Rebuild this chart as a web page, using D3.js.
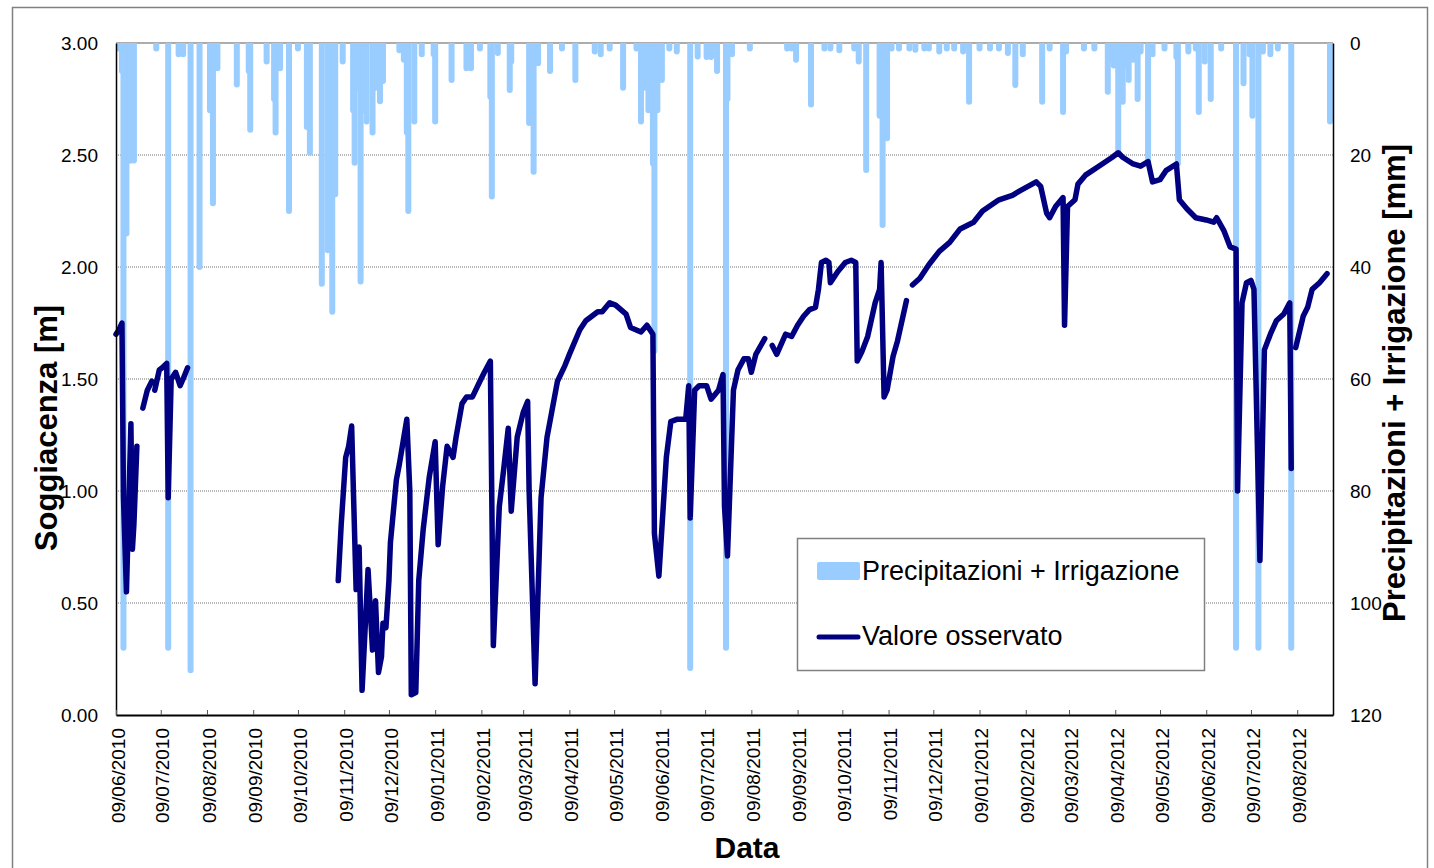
<!DOCTYPE html>
<html>
<head>
<meta charset="utf-8">
<script src="https://cdn.jsdelivr.net/npm/d3@7"></script>
<style>
  body { margin: 0; background: #fff; }
  text { font-family: Arial, "Liberation Sans", sans-serif; }
</style>
</head>
<body>
<svg id="canvas" width="1434" height="868"></svg>
<script>
// groundwater depth (Soggiacenza, m) - null marks a gap in the record
var levelDates = [
  "2010-06-09","2010-06-11","2010-06-13","2010-06-14","2010-06-16","2010-06-19","2010-06-20","2010-06-21","2010-06-23","2010-06-25",
  "2010-06-27","2010-06-30","2010-07-03","2010-07-04","2010-07-05","2010-07-08","2010-07-10","2010-07-13","2010-07-14","2010-07-16",
  "2010-07-19","2010-07-22","2010-07-24","2010-07-27","2010-07-28",
  "2010-11-05","2010-11-07","2010-11-10","2010-11-12","2010-11-14","2010-11-17","2010-11-19","2010-11-21","2010-11-25","2010-11-28",
  "2010-11-30","2010-12-02","2010-12-04","2010-12-05","2010-12-07","2010-12-09","2010-12-10","2010-12-14","2010-12-16","2010-12-18",
  "2010-12-21","2010-12-23","2010-12-24","2010-12-27","2010-12-29","2011-01-01","2011-01-05","2011-01-09","2011-01-11","2011-01-14",
  "2011-01-17","2011-01-21","2011-01-23","2011-01-27","2011-01-30","2011-02-03","2011-02-08","2011-02-11","2011-02-15","2011-02-17",
  "2011-02-21","2011-02-24","2011-02-27","2011-03-01","2011-03-05","2011-03-09","2011-03-12","2011-03-13","2011-03-17","2011-03-21",
  "2011-03-25","2011-04-01","2011-04-06","2011-04-09","2011-04-16","2011-04-20","2011-04-28","2011-05-01","2011-05-06","2011-05-10",
  "2011-05-17","2011-05-20","2011-05-27","2011-05-31","2011-06-04","2011-06-05","2011-06-08","2011-06-13","2011-06-16","2011-06-20",
  "2011-06-26","2011-06-28","2011-06-29","2011-07-02","2011-07-05","2011-07-10","2011-07-13","2011-07-18","2011-07-21","2011-07-22",
  "2011-07-24","2011-07-28","2011-07-31","2011-08-04","2011-08-07","2011-08-09","2011-08-12","2011-08-18","2011-08-20","2011-08-23",
  "2011-08-26","2011-09-01","2011-09-05","2011-09-09","2011-09-13","2011-09-17","2011-09-21","2011-09-23","2011-09-25","2011-09-28",
  "2011-09-30","2011-10-01","2011-10-06","2011-10-11","2011-10-15","2011-10-18","2011-10-19","2011-10-22","2011-10-26","2011-10-31",
  "2011-11-03","2011-11-04","2011-11-06","2011-11-08","2011-11-12","2011-11-15","2011-11-21","2011-11-23","2011-11-25","2011-11-30",
  "2011-12-06","2011-12-13","2011-12-20","2011-12-27","2012-01-05","2012-01-11","2012-01-22","2012-01-31","2012-02-05","2012-02-16",
  "2012-02-19","2012-02-23","2012-02-25","2012-02-29","2012-03-05","2012-03-06","2012-03-08","2012-03-13","2012-03-15","2012-03-20",
  "2012-03-29","2012-04-07","2012-04-11","2012-04-14","2012-04-21","2012-04-26","2012-05-01","2012-05-04","2012-05-09","2012-05-13",
  "2012-05-20","2012-05-22","2012-05-27","2012-06-02","2012-06-09","2012-06-14","2012-06-16","2012-06-21","2012-06-25","2012-06-29",
  "2012-06-30","2012-07-03","2012-07-06","2012-07-09","2012-07-11","2012-07-15","2012-07-18","2012-07-22","2012-07-26","2012-07-31",
  "2012-08-04","2012-08-05","2012-08-06","2012-08-08","2012-08-13","2012-08-16","2012-08-19","2012-08-24","2012-08-29"
];
var levelValues = [
  1.70,1.72,1.75,0.97,0.55,1.30,0.74,0.85,1.20,null,
  1.37,1.45,1.49,null,1.45,1.54,1.55,1.57,0.97,1.50,
  1.53,1.47,1.50,1.55,null,
  0.60,0.85,1.15,1.20,1.29,0.56,0.75,0.11,0.65,0.29,
  0.51,0.19,0.26,0.41,0.39,0.60,0.77,1.05,1.12,1.20,
  1.32,1.00,0.09,0.10,0.60,0.83,1.06,1.22,0.76,1.02,
  1.20,1.15,1.24,1.39,1.42,1.42,1.49,1.53,1.58,0.31,
  0.93,1.10,1.28,0.91,1.24,1.35,1.40,1.00,0.14,0.97,
  1.24,1.49,1.56,1.61,1.72,1.76,1.80,1.80,1.84,1.83,
  1.79,1.73,1.71,1.74,1.70,0.81,0.62,1.15,1.31,1.32,
  1.32,1.47,0.88,1.45,1.47,1.47,1.41,1.45,1.52,0.93,
  0.71,1.45,1.54,1.59,1.59,1.53,1.61,1.68,null,1.65,
  1.61,1.70,1.69,1.74,1.78,1.81,1.82,1.90,2.02,2.03,
  2.02,1.93,1.98,2.02,2.03,2.02,1.58,1.62,1.69,1.84,
  1.90,2.02,1.42,1.45,1.60,1.67,1.85,null,1.92,1.95,
  2.01,2.07,2.11,2.17,2.20,2.25,2.30,2.32,2.34,2.38,
  2.36,2.24,2.22,2.27,2.31,1.74,2.27,2.30,2.37,2.41,
  2.45,2.49,2.51,2.49,2.46,2.45,2.47,2.38,2.39,2.43,
  2.46,2.30,2.26,2.22,2.21,2.20,2.22,2.16,2.09,2.08,
  1.00,1.84,1.93,1.94,1.90,0.69,1.63,1.70,1.76,1.79,
  1.84,1.10,null,1.64,1.78,1.82,1.90,1.93,1.97
];

// daily precipitation + irrigation (mm)
var rainDates = [
  "2010-06-10","2010-06-13","2010-06-14","2010-06-16","2010-06-18","2010-06-19","2010-06-21",
  "2010-07-06","2010-07-14","2010-07-21","2010-07-24","2010-07-29",
  "2010-08-04","2010-08-11","2010-08-13","2010-08-16","2010-08-29",
  "2010-09-06","2010-09-07","2010-09-18","2010-09-23","2010-09-24","2010-09-27",
  "2010-10-03","2010-10-09","2010-10-15","2010-10-17","2010-10-25","2010-10-29",
  "2010-11-01","2010-11-03","2010-11-08","2010-11-15","2010-11-16","2010-11-18","2010-11-20","2010-11-22","2010-11-24","2010-11-28","2010-11-30",
  "2010-12-03","2010-12-05","2010-12-16","2010-12-19","2010-12-21","2010-12-22","2010-12-26","2010-12-31",
  "2011-01-08","2011-01-09","2011-01-20","2011-01-30",
  "2011-02-02","2011-02-08","2011-02-15","2011-02-16","2011-02-20","2011-02-28",
  "2011-03-01","2011-03-13","2011-03-16","2011-03-19","2011-03-27",
  "2011-04-04","2011-04-13","2011-04-26","2011-04-30",
  "2011-05-06","2011-05-15","2011-05-24","2011-05-27","2011-05-30",
  "2011-06-01","2011-06-04","2011-06-05","2011-06-07","2011-06-10","2011-06-15","2011-06-20","2011-06-29",
  "2011-07-04","2011-07-10","2011-07-13","2011-07-17","2011-07-23","2011-07-24","2011-07-27",
  "2011-08-08",
  "2011-09-02","2011-09-05","2011-09-08","2011-09-18","2011-09-27",
  "2011-10-01","2011-10-07","2011-10-17","2011-10-20","2011-10-25",
  "2011-11-03","2011-11-05","2011-11-08","2011-11-11","2011-11-16","2011-11-23","2011-11-27",
  "2011-12-03","2011-12-06","2011-12-13","2011-12-18","2011-12-23","2011-12-29",
  "2012-01-02","2012-01-09","2012-01-16","2012-01-22","2012-01-28",
  "2012-02-02","2012-02-07","2012-02-20","2012-02-25",
  "2012-03-05","2012-03-07","2012-03-19","2012-03-26",
  "2012-04-04","2012-04-06","2012-04-08","2012-04-11","2012-04-14","2012-04-16","2012-04-18","2012-04-21","2012-04-24","2012-04-26",
  "2012-05-01","2012-05-04","2012-05-12","2012-05-20","2012-05-21","2012-05-28",
  "2012-06-02","2012-06-04","2012-06-08","2012-06-12","2012-06-19","2012-06-29",
  "2012-07-04","2012-07-08","2012-07-10","2012-07-14","2012-07-17","2012-07-22","2012-07-27",
  "2012-08-05","2012-08-31"
];
var rainValues = [
  1,5,108,34,21,21,21,
  1,108,2,2,112,
  40,12,28.6,4.5,7.4,
  5,15.5,3.3,10,16,4.5,
  30,1,15,19.6,43,37,
  48,27,3.3,12,21.4,8,42.6,12,14,16,8,
  10.4,6.8,1.3,3,16,30,14,2,
  2,14,6.6,4.5,
  4.5,1,9.6,27.4,1.8,8.4,
  3.3,14.3,23,3.6,5,
  1,6.6,1.5,2,
  1,8,1,14,8,
  12,21.5,55,12,6.6,1,1.5,111.6,
  2.4,2.5,2.5,5,108,10,2,
  1,
  1,1,3,11,1,
  1,1.3,1,3.3,22.7,
  13,32.5,17,1,1,1,1.2,
  1,1,1.5,1,1,1.5,
  10.5,1,1,1,1.8,
  7.5,2,10.5,1,
  12.3,1.5,1,1,
  8.7,3,4,19.4,10.5,4,6.6,3,10,1.5,
  21,2,1,2.5,21.5,1.5,
  1,12.3,3.3,10,1,108,
  7.2,2,13,108,1.5,2,1,
  108,14
];

var leftTicks = [0, 0.5, 1, 1.5, 2, 2.5, 3];
var rightTicks = [0, 20, 40, 60, 80, 100, 120];
var xStart = "2010-06-09", xEnd = "2012-09-02";

var canvas = d3.select('#canvas');
var parse = d3.timeParse('%Y-%m-%d');
var fmt = d3.timeFormat('%d/%m/%Y');

var margin = { left: 116, right: 1333, top: 43, bottom: 715 };

// ticks on the 9th of every month
var tickDates = d3.range(27).map(function(i) { return new Date(2010, 5 + i, 9); });

var level = levelDates.map(function(d, i) { return { date: parse(d), v: levelValues[i] }; });
var rain = rainDates.map(function(d, i) { return { date: parse(d), v: rainValues[i] }; });

var xScale = d3.scaleTime().domain([parse(xStart), parse(xEnd)]).range([margin.left, margin.right]);
var yScale = d3.scaleLinear().domain([0, 3]).range([margin.bottom, margin.top]);
var y2Scale = d3.scaleLinear().domain([0, 120]).range([margin.top, margin.bottom]);

// outer frame
canvas.append('rect')
  .attr('x', 12.5).attr('y', 7.5).attr('width', 1415).attr('height', 900)
  .style('fill', 'white').style('stroke', '#808080').style('stroke-width', 1.5);

canvas.append('clipPath').attr('id', 'plotclip')
  .append('rect')
  .attr('x', margin.left).attr('y', margin.top)
  .attr('width', margin.right - margin.left).attr('height', margin.bottom - margin.top);

// gridlines
canvas.append('g').selectAll('line')
  .data(leftTicks.filter(function(t) { return t > 0; }))
  .enter().append('line')
  .attr('x1', margin.left).attr('x2', margin.right)
  .attr('y1', function(d) { return yScale(d); })
  .attr('y2', function(d) { return yScale(d); })
  .style('stroke', function(d) { return d === 3 ? '#909090' : '#707070'; })
  .style('stroke-width', function(d) { return d === 3 ? 1.5 : 1; })
  .style('stroke-dasharray', function(d) { return d === 3 ? null : '1,1'; });

// rain bars hanging from the top
canvas.append('g').attr('clip-path', 'url(#plotclip)')
  .selectAll('line')
  .data(rain)
  .enter().append('line')
  .attr('x1', function(d) { return xScale(d.date); })
  .attr('x2', function(d) { return xScale(d.date); })
  .attr('y1', y2Scale(0))
  .attr('y2', function(d) { return y2Scale(d.v); })
  .style('stroke', '#99CCFF')
  .style('stroke-width', 6)
  .style('stroke-linecap', 'round');

// groundwater line
var line = d3.line()
  .defined(function(d) { return d.v !== null; })
  .x(function(d) { return xScale(d.date); })
  .y(function(d) { return yScale(d.v); });

canvas.append('path')
  .datum(level)
  .attr('d', line)
  .style('fill', 'none')
  .style('stroke', '#000080')
  .style('stroke-width', 5.5)
  .style('stroke-linejoin', 'round')
  .style('stroke-linecap', 'round');

// axes
var yAxis = d3.axisLeft(yScale).tickValues(leftTicks)
  .tickFormat(d3.format('.2f')).tickSize(0).tickSizeOuter(0).tickPadding(18);
var gy = canvas.append('g')
  .attr('transform', 'translate(' + margin.left + ',0)')
  .call(yAxis);

var y2Axis = d3.axisRight(y2Scale).tickValues(rightTicks)
  .tickSize(0).tickSizeOuter(0).tickPadding(17);
var gy2 = canvas.append('g')
  .attr('transform', 'translate(' + margin.right + ',0)')
  .call(y2Axis);

var xAxis = d3.axisBottom(xScale).tickValues(tickDates)
  .tickFormat(fmt).tickSize(-5).tickSizeOuter(0);
var gx = canvas.append('g')
  .attr('transform', 'translate(0,' + margin.bottom + ')')
  .call(xAxis);

gx.selectAll('text')
  .attr('transform', 'rotate(-90)')
  .attr('text-anchor', 'end')
  .attr('x', -13).attr('y', 0).attr('dy', '0.43em');

[gy, gy2, gx].forEach(function(g) {
  g.selectAll('text').style('font-size', '19px').style('fill', '#000');
  g.select('.domain').style('stroke', '#000').style('stroke-width', 1.5);
});
gx.select('.domain').style('stroke-width', 2);
gx.selectAll('.tick line').style('stroke', '#555');

// axis titles
canvas.append('text')
  .attr('transform', 'translate(57,428) rotate(-90)')
  .attr('text-anchor', 'middle')
  .style('font-size', '31px').style('font-weight', 'bold')
  .text('Soggiacenza [m]');

canvas.append('text')
  .attr('transform', 'translate(1405,383) rotate(-90)')
  .attr('text-anchor', 'middle')
  .style('font-size', '31px').style('font-weight', 'bold')
  .text('Precipitazioni + Irrigazione [mm]');

canvas.append('text')
  .attr('x', 747).attr('y', 858)
  .attr('text-anchor', 'middle')
  .style('font-size', '30px').style('font-weight', 'bold')
  .text('Data');

// legend
var legend = canvas.append('g');
legend.append('rect')
  .attr('x', 797.5).attr('y', 538.5).attr('width', 407).attr('height', 132)
  .style('fill', 'white').style('stroke', '#808080').style('stroke-width', 1.5);
legend.append('rect')
  .attr('x', 817).attr('y', 562).attr('width', 43).attr('height', 18).attr('rx', 2)
  .style('fill', '#99CCFF');
legend.append('text')
  .attr('x', 862).attr('y', 580)
  .style('font-size', '27px')
  .text('Precipitazioni + Irrigazione');
legend.append('line')
  .attr('x1', 819).attr('x2', 858).attr('y1', 637).attr('y2', 637)
  .style('stroke', '#000080').style('stroke-width', 5).style('stroke-linecap', 'round');
legend.append('text')
  .attr('x', 862).attr('y', 645)
  .style('font-size', '27px')
  .text('Valore osservato');
</script>
</body>
</html>
